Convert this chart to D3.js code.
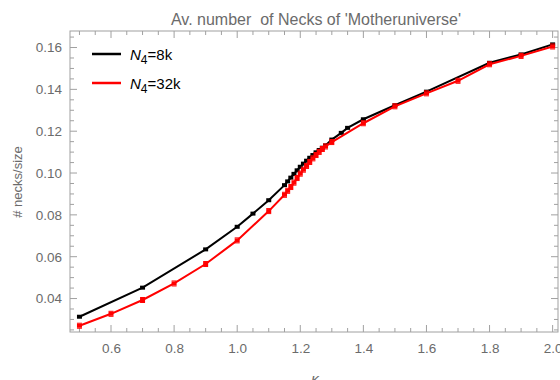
<!DOCTYPE html>
<html><head><meta charset="utf-8">
<script src="https://cdn.jsdelivr.net/npm/d3@7"></script>
<style>body{margin:0;background:#fff}svg{display:block;font-family:"Liberation Sans",Arial,sans-serif}</style>
</head><body><svg id="c" width="560" height="380"></svg>
<script>
const kappa8 = [0.5,0.7,0.9,1.0,1.05,1.1,1.15,1.16,1.17,1.18,1.19,1.2,1.21,1.22,1.23,1.24,1.25,1.26,1.27,1.28,1.3,1.33,1.35,1.4,1.5,1.6,1.8,1.9,2.0];
const necks8 = [0.0313,0.0452,0.0635,0.0743,0.0806,0.0870,0.0942,0.0960,0.0978,0.0996,0.1013,0.1030,0.1045,0.1059,0.1073,0.1086,0.1099,0.1110,0.1121,0.1132,0.1160,0.1192,0.1216,0.1257,0.1324,0.1389,0.1527,0.1567,0.1615];
const kappa32 = [0.5,0.6,0.7,0.8,0.9,1.0,1.1,1.15,1.16,1.17,1.18,1.19,1.2,1.21,1.22,1.23,1.24,1.25,1.26,1.27,1.28,1.3,1.4,1.5,1.6,1.7,1.8,1.9,2.0];
const necks32 = [0.0270,0.0327,0.0393,0.0472,0.0565,0.0678,0.0818,0.0896,0.0915,0.0933,0.0954,0.0976,0.0997,0.1016,0.1034,0.1053,0.1070,0.1086,0.1101,0.1115,0.1127,0.1148,0.1238,0.1319,0.1381,0.1441,0.1520,0.1560,0.1605];
const xTicks = [0.6,0.8,1.0,1.2,1.4,1.6,1.8,2.0];
const yTicks = [0.04,0.06,0.08,0.10,0.12,0.14,0.16];
const seriesNames = ["8k","32k"];
const seriesColors = ["#000000","#ff0000"];

const svg = d3.select("#c");
const L=70, R=558, T=31, B=332;
const x = d3.scaleLinear().domain([0.47,2.017]).range([L,R]);
const y = d3.scaleLinear().domain([0.0240,0.1679]).range([B,T]);
const frameCol="#a0a0a0", labCol="#6b6b6b";

// title
svg.append("text").attr("x",316).attr("y",25).attr("text-anchor","middle")
  .attr("font-size",16).attr("fill",labCol).attr("xml:space","preserve")
  .text("Av. number  of Necks of 'Motheruniverse'");

// frame
svg.append("rect").attr("x",L).attr("y",T).attr("width",R-L).attr("height",B-T)
  .attr("fill","none").attr("stroke",frameCol).attr("stroke-width",1);

const xMinor = d3.range(0.5,2.0001,0.05).map(v=>+v.toFixed(2));
const yMinor = d3.range(0.025,0.1651,0.005).map(v=>+v.toFixed(3));
const isMajX = v => xTicks.some(t=>Math.abs(t-v)<1e-6);
const isMajY = v => yTicks.some(t=>Math.abs(t-v)<1e-6);

xMinor.forEach(v=>{
  const len = isMajX(v)?7:4;
  svg.append("line").attr("x1",x(v)).attr("x2",x(v)).attr("y1",B).attr("y2",B-len).attr("stroke",frameCol);
  svg.append("line").attr("x1",x(v)).attr("x2",x(v)).attr("y1",T).attr("y2",T+len).attr("stroke",frameCol);
});
yMinor.forEach(v=>{
  const len = isMajY(v)?7:4;
  svg.append("line").attr("y1",y(v)).attr("y2",y(v)).attr("x1",L).attr("x2",L+len).attr("stroke",frameCol);
  svg.append("line").attr("y1",y(v)).attr("y2",y(v)).attr("x1",R).attr("x2",R-len).attr("stroke",frameCol);
});

const gx = svg.append("g").attr("transform",`translate(0,${B})`)
  .call(d3.axisBottom(x).tickValues(xTicks).tickSize(0).tickPadding(11).tickFormat(d3.format(".1f")));
const gy = svg.append("g").attr("transform",`translate(${L},0)`)
  .call(d3.axisLeft(y).tickValues(yTicks).tickSize(0).tickPadding(8).tickFormat(d3.format(".2f")));
[gx,gy].forEach(g=>{g.select(".domain").remove();
  g.selectAll("text").attr("fill",labCol).attr("font-size",13.5).attr("font-family","Liberation Sans, Arial, sans-serif");});

svg.append("text").attr("transform","translate(22,182) rotate(-90)").attr("text-anchor","middle")
  .attr("font-size",13).attr("fill",labCol).text("# necks/size");
const xl = svg.append("text").attr("x",318).attr("y",384).attr("text-anchor","middle").attr("font-size",15).attr("fill",labCol);
xl.append("tspan").attr("font-style","italic").text("κ");
xl.append("tspan").attr("dy",4).attr("font-size",11).text("2");

const data = [
  kappa8.map((k,i)=>({k, v:necks8[i]})),
  kappa32.map((k,i)=>({k, v:necks32[i]}))
];
const line = d3.line().x(d=>x(d.k)).y(d=>y(d.v));
data.forEach((ds,si)=>{
  const col = seriesColors[si];
  svg.append("path").datum(ds).attr("d",line).attr("fill","none").attr("stroke",col).attr("stroke-width",2);
  const g = svg.append("g");
  g.selectAll("rect").data(ds).join("rect")
    .attr("x",d=>x(d.k)-2.5).attr("y",d=>y(d.v)-2).attr("width",5).attr("height",4).attr("fill",col);
  if(si===1){
    g.selectAll("line.cap").data(ds).join("line").attr("class","cap")
      .attr("x1",d=>x(d.k)-2.5).attr("x2",d=>x(d.k)+2.5).attr("y1",d=>y(d.v)+2.5).attr("y2",d=>y(d.v)+2.5)
      .attr("stroke",col).attr("stroke-width",1);
    g.selectAll("line.cap2").data(ds).join("line").attr("class","cap2")
      .attr("x1",d=>x(d.k)-2.5).attr("x2",d=>x(d.k)+2.5).attr("y1",d=>y(d.v)-2.5).attr("y2",d=>y(d.v)-2.5)
      .attr("stroke",col).attr("stroke-width",1);
  }
});

seriesNames.forEach((n,i)=>{
  const ly = 54 + i*29;
  svg.append("line").attr("x1",92).attr("x2",121).attr("y1",ly).attr("y2",ly)
    .attr("stroke",seriesColors[i]).attr("stroke-width",2.5);
  const t = svg.append("text").attr("x",130).attr("y",ly+6).attr("font-size",15).attr("fill","#000");
  t.append("tspan").attr("font-style","italic").text("N");
  t.append("tspan").attr("dy",4).attr("font-size",12).text("4");
  t.append("tspan").attr("dy",-4).text("=" + n);
});
</script></body></html>
